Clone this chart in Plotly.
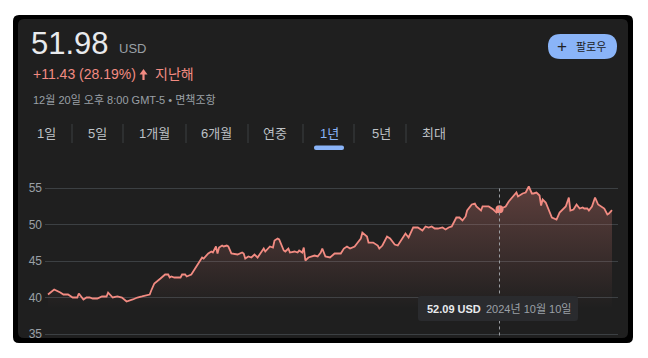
import plotly.graph_objects as go

# ---------------- data ----------------
days = [0, 4, 8, 10, 13, 16, 19, 20, 23, 25, 27, 29, 32, 35, 38, 39, 42, 45, 48, 51,
        55, 58, 61, 64, 66, 67, 69, 73, 76, 78, 79, 80, 82, 86, 87, 89, 90, 93, 95, 99,
        100, 101, 104, 106, 107, 109, 110, 111, 113, 114, 116, 117, 119, 123, 126, 127, 128, 130, 132, 134,
        136, 140, 141, 144, 146, 147, 149, 150, 153, 154, 156, 157, 160, 162, 163, 165, 166, 167, 169, 173,
        175, 177, 178, 180, 183, 186, 190, 192, 194, 196, 199, 201, 203, 204, 207, 208, 211, 214, 215, 217,
        220, 222, 225, 227, 230, 232, 234, 237, 240, 243, 245, 247, 249, 251, 253, 256, 258, 260, 262, 265,
        267, 269, 271, 272, 275, 277, 278, 281, 282, 286, 289, 291, 293, 297, 299, 302, 304, 305, 308, 310,
        312, 314, 315, 317, 319, 320, 321, 323, 325, 327, 330, 332, 336, 338, 339, 341, 343, 345, 347, 348,
        350, 351, 353, 355, 357, 360, 361, 363, 364, 366]
price = [40.41, 41.10, 40.68, 40.41, 40.41, 40.00, 40.00, 40.55, 39.73, 40.00, 40.00, 39.86, 39.86, 40.14, 40.14, 40.68, 40.00, 40.14, 40.00, 39.45,
         39.73, 40.00, 40.14, 40.27, 40.41, 40.96, 41.92, 42.60, 43.15, 43.15, 42.74, 42.88, 42.74, 42.74, 43.15, 43.15, 42.88, 43.15, 43.84, 45.07,
         45.48, 45.34, 46.03, 46.30, 46.16, 46.99, 46.03, 46.85, 47.12, 46.99, 47.12, 46.99, 46.03, 45.89, 46.16, 46.03, 45.34, 45.62, 45.48, 45.89,
         45.48, 46.71, 46.30, 46.99, 46.85, 47.81, 48.08, 47.95, 46.44, 46.30, 46.71, 46.16, 46.30, 46.16, 46.44, 46.16, 46.85, 45.07, 45.48, 45.75,
         45.62, 46.16, 46.71, 45.62, 45.48, 46.03, 46.03, 46.71, 46.99, 46.71, 46.99, 47.53, 48.08, 48.90, 48.36, 47.53, 47.53, 47.12, 46.71, 47.12,
         48.36, 48.08, 47.26, 47.12, 48.08, 48.77, 48.22, 49.59, 49.59, 49.18, 49.73, 49.59, 49.73, 49.45, 49.45, 49.59, 49.32, 49.59, 49.73, 50.96,
         50.96, 50.55, 51.10, 51.92, 52.74, 52.88, 52.47, 51.92, 52.47, 52.47, 52.05, 51.64, 52.09, 52.47, 53.15, 53.84, 54.38, 53.84, 54.25, 54.38,
         55.21, 54.25, 54.25, 54.38, 53.97, 52.60, 53.42, 53.01, 51.92, 50.96, 50.68, 51.64, 52.47, 53.70, 51.92, 52.05, 52.74, 52.19, 52.33, 52.19,
         52.19, 51.92, 52.47, 53.70, 52.74, 52.33, 52.19, 51.37, 51.51, 51.98]
assert len(days) == len(price)

y_ticks = [35, 40, 45, 50, 55]
hover_day = 293
hover_price = 52.09
hover_text = "52.09 USD"
hover_date = "2024년 10월 10일"

last_price = "51.98"
change_text = "+11.43 (28.19%)"
period_text = "지난해"
timestamp = "12월 20일 오후 8:00 GMT-5 • 면책조항"
tabs = ["1일", "5일", "1개월", "6개월", "연중", "1년", "5년", "최대"]
active_tab = "1년"

# ---------------- layout helpers ----------------
W, H = 648, 358
L, R, T, B = 45, 30, 170, 22
PW, PH = W - L - R, H - T - B


def px(x):
    return (x - L) / PW


def py(y):
    return (H - B - y) / PH


def rrect(x0, y0, x1, y1, r):
    pts = (f"M{px(x0 + r)},{py(y0)} L{px(x1 - r)},{py(y0)} Q{px(x1)},{py(y0)} {px(x1)},{py(y0 + r)} "
           f"L{px(x1)},{py(y1 - r)} Q{px(x1)},{py(y1)} {px(x1 - r)},{py(y1)} "
           f"L{px(x0 + r)},{py(y1)} Q{px(x0)},{py(y1)} {px(x0)},{py(y1 - r)} "
           f"L{px(x0)},{py(y0 + r)} Q{px(x0)},{py(y0)} {px(x0 + r)},{py(y0)} Z")
    return pts


FONT = "Arial, 'Liberation Sans', 'Noto Sans CJK KR', sans-serif"
RED = "#f28b82"
GREY = "#9aa0a6"
BLUE = "#8ab4f8"
BG = "#1f1f1f"

fig = go.Figure()
fig.add_trace(go.Scatter(
    x=days, y=price, mode="lines",
    line=dict(color=RED, width=1.8),
    fill="tozeroy",
    fillgradient=dict(type="vertical", start=55.5, stop=38.5,
                      colorscale=[[0, "rgba(242,139,130,0.30)"], [1, "rgba(242,139,130,0)"]]),
    hoverinfo="skip", showlegend=False,
))
fig.add_trace(go.Scatter(
    x=[hover_day], y=[hover_price], mode="markers",
    marker=dict(color=RED, size=8), hoverinfo="skip", showlegend=False,
))

shapes = []
# frame and panel
shapes.append(dict(type="path", path=rrect(13, 15, 633, 343, 6), xref="paper", yref="paper",
                   fillcolor="#000000", line=dict(width=0), layer="below"))
shapes.append(dict(type="path", path=rrect(18, 19, 628, 338, 6), xref="paper", yref="paper",
                   fillcolor=BG, line=dict(width=0), layer="below"))
# follow button
shapes.append(dict(type="path", path=rrect(548, 34, 617, 59, 12.5), xref="paper", yref="paper",
                   fillcolor=BLUE, line=dict(width=0), layer="above"))
# up arrow
arrow = (f"M{px(139.5)},{py(74.5)} L{px(143.5)},{py(69)} L{px(147.5)},{py(74.5)} L{px(144.6)},{py(74.5)} "
         f"L{px(144.6)},{py(80)} L{px(142.4)},{py(80)} L{px(142.4)},{py(74.5)} Z")
shapes.append(dict(type="path", path=arrow, xref="paper", yref="paper",
                   fillcolor=RED, line=dict(width=0), layer="above"))
# tab separators
for sx in [72, 123, 186, 248, 303, 354, 406]:
    shapes.append(dict(type="line", xref="paper", yref="paper", x0=px(sx), x1=px(sx), y0=py(124), y1=py(143),
                       line=dict(color="#3c4043", width=1), layer="above"))
# active tab underline
shapes.append(dict(type="path", path=rrect(314, 145.5, 344, 150, 2), xref="paper", yref="paper",
                   fillcolor=BLUE, line=dict(width=0), layer="above"))
# crosshair
shapes.append(dict(type="line", xref="x", yref="y", x0=hover_day, x1=hover_day, y0=34.8, y1=55.1,
                   line=dict(color="#9a9da1", width=1, dash="dot"), layer="above"))
# hover label box
shapes.append(dict(type="path", path=rrect(418, 296, 578, 321, 3), xref="paper", yref="paper",
                   fillcolor="#2a2b2e", line=dict(width=0), layer="above"))

ann = []


def text(x, y, s, size, color, anchor="left", bold=False):
    ann.append(dict(x=px(x), y=py(y), xref="paper", yref="paper", text=(f"<b>{s}</b>" if bold else s),
                    showarrow=False, xanchor=anchor, yanchor="middle",
                    font=dict(family=FONT, size=size, color=color)))


text(29, 43, last_price, 31, "#e8eaed")
text(117, 48.5, "USD", 13, GREY)
text(31, 74.5, change_text, 14, RED)
text(153, 74.5, period_text, 14, RED)
text(31, 99.5, timestamp, 11, GREY)
text(562, 46.5, "+", 17, "#202124", anchor="center")
text(591, 46.5, "팔로우", 11, "#202124", anchor="center")
tab_x = [46, 97, 154, 216, 275, 329, 381, 434]
for t, tx in zip(tabs, tab_x):
    text(tx, 133, t, 13, BLUE if t == active_tab else "#bdc1c6", anchor="center")
text(425, 308.5, hover_text, 11, "#e8eaed", bold=True)
text(484, 308.5, hover_date, 11, GREY)

fig.update_layout(
    width=W, height=H,
    margin=dict(l=L, r=R, t=T, b=B, pad=0),
    paper_bgcolor="#ffffff", plot_bgcolor="rgba(0,0,0,0)",
    shapes=shapes, annotations=ann, hovermode=False,
    xaxis=dict(visible=False, range=[-1.95, 369.9], fixedrange=True),
    yaxis=dict(range=[34.726, 57.466], tickvals=y_ticks, showgrid=True, gridcolor="#3c4043", gridwidth=1,
               zeroline=False, showline=False, ticks="", ticklabelstandoff=2,
               tickfont=dict(family=FONT, size=12, color=GREY), fixedrange=True),
)

fig.write_html("out.html", config={"displayModeBar": False})
